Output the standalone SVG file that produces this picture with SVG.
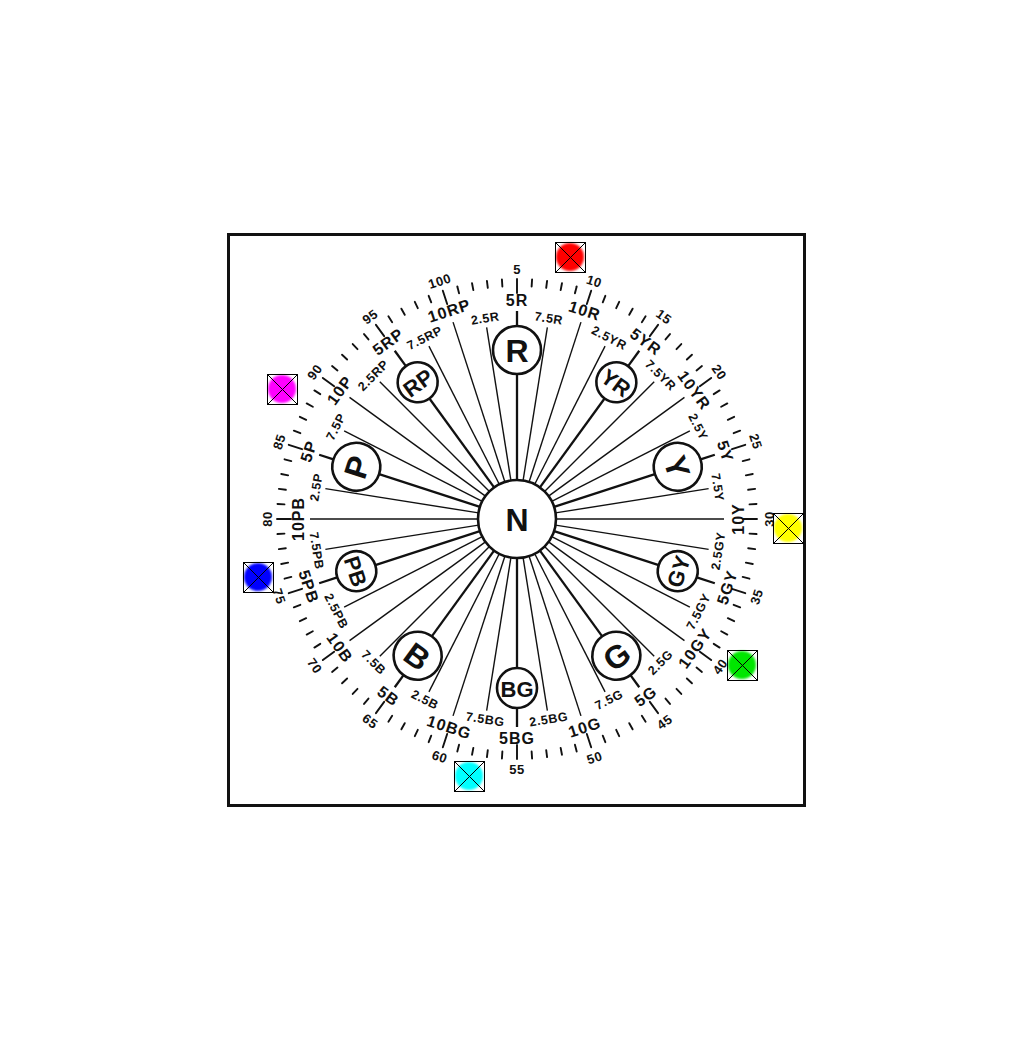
<svg xmlns="http://www.w3.org/2000/svg" width="1028" height="1039" viewBox="0 0 1028 1039">
<style>
 .ln{stroke:#111;stroke-width:1.4}
 .lnM{stroke:#111;stroke-width:2.3}
 .hc{fill:#fff;stroke:#111;stroke-width:2.6}
 text{font-family:"Liberation Sans",Arial,sans-serif;font-weight:bold;fill:#111;text-anchor:middle;dominant-baseline:central}
 .num{font-size:13px;letter-spacing:0.5px}
 .maj{font-size:16px;letter-spacing:1px}
 .min{font-size:12.5px;letter-spacing:0.6px}
 .big{font-size:32px}
 .mid{font-size:22px}
 .mk rect{fill:none;stroke:#000;stroke-width:1}
 .mk line{stroke:#000;stroke-width:1}
</style>
<defs>
 <line id="tk" x1="0" y1="-233" x2="0" y2="-240"/>
 <line id="tM" x1="0" y1="-226" x2="0" y2="-240"/>
 <filter id="soft" x="-20%" y="-20%" width="140%" height="140%"><feGaussianBlur stdDeviation="0.8"/></filter>
</defs>
<rect x="0" y="0" width="1028" height="1039" fill="#fff"/>
<rect id="frame" x="228.5" y="234.5" width="576" height="571" fill="none" stroke="#111" stroke-width="3"/>
<g transform="translate(517 519)">
 <g id="ticks" stroke="#111" stroke-width="1.9" stroke-linecap="round">
  <use href="#tk" transform="rotate(-14.4)"/><use href="#tk" transform="rotate(-10.8)"/><use href="#tk" transform="rotate(-7.2)"/><use href="#tk" transform="rotate(-3.6)"/><use href="#tM" transform="rotate(0)"/>
  <use href="#tk" transform="rotate(3.6)"/><use href="#tk" transform="rotate(7.2)"/><use href="#tk" transform="rotate(10.8)"/><use href="#tk" transform="rotate(14.4)"/><use href="#tM" transform="rotate(18)"/>
  <use href="#tk" transform="rotate(21.6)"/><use href="#tk" transform="rotate(25.2)"/><use href="#tk" transform="rotate(28.8)"/><use href="#tk" transform="rotate(32.4)"/><use href="#tM" transform="rotate(36)"/>
  <use href="#tk" transform="rotate(39.6)"/><use href="#tk" transform="rotate(43.2)"/><use href="#tk" transform="rotate(46.8)"/><use href="#tk" transform="rotate(50.4)"/><use href="#tM" transform="rotate(54)"/>
  <use href="#tk" transform="rotate(57.6)"/><use href="#tk" transform="rotate(61.2)"/><use href="#tk" transform="rotate(64.8)"/><use href="#tk" transform="rotate(68.4)"/><use href="#tM" transform="rotate(72)"/>
  <use href="#tk" transform="rotate(75.6)"/><use href="#tk" transform="rotate(79.2)"/><use href="#tk" transform="rotate(82.8)"/><use href="#tk" transform="rotate(86.4)"/><use href="#tM" transform="rotate(90)"/>
  <use href="#tk" transform="rotate(93.6)"/><use href="#tk" transform="rotate(97.2)"/><use href="#tk" transform="rotate(100.8)"/><use href="#tk" transform="rotate(104.4)"/><use href="#tM" transform="rotate(108)"/>
  <use href="#tk" transform="rotate(111.6)"/><use href="#tk" transform="rotate(115.2)"/><use href="#tk" transform="rotate(118.8)"/><use href="#tk" transform="rotate(122.4)"/><use href="#tM" transform="rotate(126)"/>
  <use href="#tk" transform="rotate(129.6)"/><use href="#tk" transform="rotate(133.2)"/><use href="#tk" transform="rotate(136.8)"/><use href="#tk" transform="rotate(140.4)"/><use href="#tM" transform="rotate(144)"/>
  <use href="#tk" transform="rotate(147.6)"/><use href="#tk" transform="rotate(151.2)"/><use href="#tk" transform="rotate(154.8)"/><use href="#tk" transform="rotate(158.4)"/><use href="#tM" transform="rotate(162)"/>
  <use href="#tk" transform="rotate(165.6)"/><use href="#tk" transform="rotate(169.2)"/><use href="#tk" transform="rotate(172.8)"/><use href="#tk" transform="rotate(176.4)"/><use href="#tM" transform="rotate(180)"/>
  <use href="#tk" transform="rotate(183.6)"/><use href="#tk" transform="rotate(187.2)"/><use href="#tk" transform="rotate(190.8)"/><use href="#tk" transform="rotate(194.4)"/><use href="#tM" transform="rotate(198)"/>
  <use href="#tk" transform="rotate(201.6)"/><use href="#tk" transform="rotate(205.2)"/><use href="#tk" transform="rotate(208.8)"/><use href="#tk" transform="rotate(212.4)"/><use href="#tM" transform="rotate(216)"/>
  <use href="#tk" transform="rotate(219.6)"/><use href="#tk" transform="rotate(223.2)"/><use href="#tk" transform="rotate(226.8)"/><use href="#tk" transform="rotate(230.4)"/><use href="#tM" transform="rotate(234)"/>
  <use href="#tk" transform="rotate(237.6)"/><use href="#tk" transform="rotate(241.2)"/><use href="#tk" transform="rotate(244.8)"/><use href="#tk" transform="rotate(248.4)"/><use href="#tM" transform="rotate(252)"/>
  <use href="#tk" transform="rotate(255.6)"/><use href="#tk" transform="rotate(259.2)"/><use href="#tk" transform="rotate(262.8)"/><use href="#tk" transform="rotate(266.4)"/><use href="#tM" transform="rotate(270)"/>
  <use href="#tk" transform="rotate(273.6)"/><use href="#tk" transform="rotate(277.2)"/><use href="#tk" transform="rotate(280.8)"/><use href="#tk" transform="rotate(284.4)"/><use href="#tM" transform="rotate(288)"/>
  <use href="#tk" transform="rotate(291.6)"/><use href="#tk" transform="rotate(295.2)"/><use href="#tk" transform="rotate(298.8)"/><use href="#tk" transform="rotate(302.4)"/><use href="#tM" transform="rotate(306)"/>
  <use href="#tk" transform="rotate(309.6)"/><use href="#tk" transform="rotate(313.2)"/><use href="#tk" transform="rotate(316.8)"/><use href="#tk" transform="rotate(320.4)"/><use href="#tM" transform="rotate(324)"/>
  <use href="#tk" transform="rotate(327.6)"/><use href="#tk" transform="rotate(331.2)"/><use href="#tk" transform="rotate(334.8)"/><use href="#tk" transform="rotate(338.4)"/><use href="#tM" transform="rotate(342)"/>
 </g>
 <g id="numbers">
  <text class="num" transform="rotate(0) translate(0 -250)">5</text>
  <text class="num" transform="rotate(18) translate(0 -250)">10</text>
  <text class="num" transform="rotate(36) translate(0 -250)">15</text>
  <text class="num" transform="rotate(54) translate(0 -250)">20</text>
  <text class="num" transform="rotate(72) translate(0 -251)">25</text>
  <text class="num" transform="rotate(90) translate(0 -252) rotate(180)">30</text>
  <text class="num" transform="rotate(108) translate(0 -252) rotate(180)">35</text>
  <text class="num" transform="rotate(126) translate(0 -251) rotate(180)">40</text>
  <text class="num" transform="rotate(144) translate(0 -251) rotate(180)">45</text>
  <text class="num" transform="rotate(162) translate(0 -251) rotate(180)">50</text>
  <text class="num" transform="rotate(180) translate(0 -250) rotate(180)">55</text>
  <text class="num" transform="rotate(198) translate(0 -250) rotate(180)">60</text>
  <text class="num" transform="rotate(216) translate(0 -250) rotate(180)">65</text>
  <text class="num" transform="rotate(234) translate(0 -250) rotate(180)">70</text>
  <text class="num" transform="rotate(252) translate(0 -250) rotate(180)">75</text>
  <text class="num" transform="rotate(270) translate(0 -250)">80</text>
  <text class="num" transform="rotate(288) translate(0 -250)">85</text>
  <text class="num" transform="rotate(306) translate(0 -250)">90</text>
  <text class="num" transform="rotate(324) translate(0 -250)">95</text>
  <text class="num" transform="rotate(342) translate(0 -250)">100</text>
 </g>
 <g id="connectors">
  <line class="ln" y1="-39" y2="-194" transform="rotate(-9)"/>
  <line class="ln" y1="-39" y2="-194" transform="rotate(9)"/>
  <line class="ln" y1="-39" y2="-194" transform="rotate(27)"/>
  <line class="ln" y1="-39" y2="-194" transform="rotate(45)"/>
  <line class="ln" y1="-39" y2="-194" transform="rotate(63)"/>
  <line class="ln" y1="-39" y2="-194" transform="rotate(81)"/>
  <line class="ln" y1="-39" y2="-194" transform="rotate(99)"/>
  <line class="ln" y1="-39" y2="-194" transform="rotate(117)"/>
  <line class="ln" y1="-39" y2="-194" transform="rotate(135)"/>
  <line class="ln" y1="-39" y2="-194" transform="rotate(153)"/>
  <line class="ln" y1="-39" y2="-194" transform="rotate(171)"/>
  <line class="ln" y1="-39" y2="-194" transform="rotate(189)"/>
  <line class="ln" y1="-39" y2="-194" transform="rotate(207)"/>
  <line class="ln" y1="-39" y2="-194" transform="rotate(225)"/>
  <line class="ln" y1="-39" y2="-194" transform="rotate(243)"/>
  <line class="ln" y1="-39" y2="-194" transform="rotate(261)"/>
  <line class="ln" y1="-39" y2="-194" transform="rotate(279)"/>
  <line class="ln" y1="-39" y2="-194" transform="rotate(297)"/>
  <line class="ln" y1="-39" y2="-194" transform="rotate(315)"/>
  <line class="ln" y1="-39" y2="-194" transform="rotate(333)"/>
  <line class="ln" y1="-39" y2="-207" transform="rotate(18)"/>
  <line class="ln" y1="-39" y2="-207" transform="rotate(54)"/>
  <line class="ln" y1="-39" y2="-207" transform="rotate(90)"/>
  <line class="ln" y1="-39" y2="-207" transform="rotate(126)"/>
  <line class="ln" y1="-39" y2="-207" transform="rotate(162)"/>
  <line class="ln" y1="-39" y2="-207" transform="rotate(198)"/>
  <line class="ln" y1="-39" y2="-207" transform="rotate(234)"/>
  <line class="ln" y1="-39" y2="-207" transform="rotate(270)"/>
  <line class="ln" y1="-39" y2="-207" transform="rotate(306)"/>
  <line class="ln" y1="-39" y2="-207" transform="rotate(342)"/>
  <line class="lnM" y1="-39" y2="-145" transform="rotate(0)"/><line class="lnM" y1="-193" y2="-208" transform="rotate(0)"/>
  <line class="lnM" y1="-39" y2="-149" transform="rotate(36)"/><line class="lnM" y1="-189" y2="-208" transform="rotate(36)"/>
  <line class="lnM" y1="-39" y2="-145" transform="rotate(72)"/><line class="lnM" y1="-193" y2="-208" transform="rotate(72)"/>
  <line class="lnM" y1="-39" y2="-149" transform="rotate(108)"/><line class="lnM" y1="-189" y2="-208" transform="rotate(108)"/>
  <line class="lnM" y1="-39" y2="-145" transform="rotate(144)"/><line class="lnM" y1="-193" y2="-208" transform="rotate(144)"/>
  <line class="lnM" y1="-39" y2="-149" transform="rotate(180)"/><line class="lnM" y1="-189" y2="-208" transform="rotate(180)"/>
  <line class="lnM" y1="-39" y2="-145" transform="rotate(216)"/><line class="lnM" y1="-193" y2="-208" transform="rotate(216)"/>
  <line class="lnM" y1="-39" y2="-149" transform="rotate(252)"/><line class="lnM" y1="-189" y2="-208" transform="rotate(252)"/>
  <line class="lnM" y1="-39" y2="-145" transform="rotate(288)"/><line class="lnM" y1="-193" y2="-208" transform="rotate(288)"/>
  <line class="lnM" y1="-39" y2="-149" transform="rotate(324)"/><line class="lnM" y1="-189" y2="-208" transform="rotate(324)"/>
 </g>
 <g id="major-labels">
  <text class="maj" transform="rotate(0) translate(0 -219)">5R</text>
  <text class="maj" transform="rotate(18) translate(0 -219)">10R</text>
  <text class="maj" transform="rotate(36) translate(0 -219)">5YR</text>
  <text class="maj" transform="rotate(54) translate(0 -219)">10YR</text>
  <text class="maj" transform="rotate(72) translate(0 -219)">5Y</text>
  <text class="maj" transform="rotate(90) translate(0 -221) rotate(180)">10Y</text>
  <text class="maj" transform="rotate(108) translate(0 -221) rotate(180)">5GY</text>
  <text class="maj" transform="rotate(126) translate(0 -220) rotate(180)">10GY</text>
  <text class="maj" transform="rotate(144) translate(0 -219) rotate(180)">5G</text>
  <text class="maj" transform="rotate(162) translate(0 -219) rotate(180)">10G</text>
  <text class="maj" transform="rotate(180) translate(0 -219) rotate(180)">5BG</text>
  <text class="maj" transform="rotate(198) translate(0 -219) rotate(180)">10BG</text>
  <text class="maj" transform="rotate(216) translate(0 -219) rotate(180)">5B</text>
  <text class="maj" transform="rotate(234) translate(0 -219) rotate(180)">10B</text>
  <text class="maj" transform="rotate(252) translate(0 -219) rotate(180)">5PB</text>
  <text class="maj" transform="rotate(270) translate(0 -219)">10PB</text>
  <text class="maj" transform="rotate(288) translate(0 -219)">5P</text>
  <text class="maj" transform="rotate(306) translate(0 -219)">10P</text>
  <text class="maj" transform="rotate(324) translate(0 -219)">5RP</text>
  <text class="maj" transform="rotate(342) translate(0 -219)">10RP</text>
 </g>
 <g id="minor-labels">
  <text class="min" transform="rotate(-9) translate(0 -203)">2.5R</text>
  <text class="min" transform="rotate(9) translate(0 -203)">7.5R</text>
  <text class="min" transform="rotate(27) translate(0 -203)">2.5YR</text>
  <text class="min" transform="rotate(45) translate(0 -203)">7.5YR</text>
  <text class="min" transform="rotate(63) translate(0 -203)">2.5Y</text>
  <text class="min" transform="rotate(81) translate(0 -203)">7.5Y</text>
  <text class="min" transform="rotate(99) translate(0 -204) rotate(180)">2.5GY</text>
  <text class="min" transform="rotate(117) translate(0 -204) rotate(180)">7.5GY</text>
  <text class="min" transform="rotate(135) translate(0 -203) rotate(180)">2.5G</text>
  <text class="min" transform="rotate(153) translate(0 -203) rotate(180)">7.5G</text>
  <text class="min" transform="rotate(171) translate(0 -203) rotate(180)">2.5BG</text>
  <text class="min" transform="rotate(189) translate(0 -203) rotate(180)">7.5BG</text>
  <text class="min" transform="rotate(207) translate(0 -203) rotate(180)">2.5B</text>
  <text class="min" transform="rotate(225) translate(0 -203) rotate(180)">7.5B</text>
  <text class="min" transform="rotate(243) translate(0 -203) rotate(180)">2.5PB</text>
  <text class="min" transform="rotate(261) translate(0 -203) rotate(180)">7.5PB</text>
  <text class="min" transform="rotate(279) translate(0 -203)">2.5P</text>
  <text class="min" transform="rotate(297) translate(0 -203)">7.5P</text>
  <text class="min" transform="rotate(315) translate(0 -203)">2.5RP</text>
  <text class="min" transform="rotate(333) translate(0 -203)">7.5RP</text>
 </g>
 <g id="node-N"><circle r="39" class="hc" stroke-width="3"/><text class="big" y="1">N</text></g>
 <g id="node-R" transform="rotate(0) translate(0 -169)"><circle r="24" class="hc"/><text class="big" y="1">R</text></g>
 <g id="node-YR" transform="rotate(36) translate(0 -169)"><circle r="20" class="hc"/><text class="mid" y="1">YR</text></g>
 <g id="node-Y" transform="rotate(72) translate(0 -169)"><circle r="24" class="hc"/><text class="big" y="1">Y</text></g>
 <g id="node-GY" transform="rotate(108) translate(0 -169) rotate(180)"><circle r="20" class="hc"/><text class="mid" y="1">GY</text></g>
 <g id="node-G" transform="rotate(144) translate(0 -169) rotate(180)"><circle r="24" class="hc"/><text class="big" y="1">G</text></g>
 <g id="node-BG" transform="rotate(180) translate(0 -169) rotate(180)"><circle r="20" class="hc"/><text class="mid" y="1">BG</text></g>
 <g id="node-B" transform="rotate(216) translate(0 -169) rotate(180)"><circle r="24" class="hc"/><text class="big" y="1">B</text></g>
 <g id="node-PB" transform="rotate(252) translate(0 -169) rotate(180)"><circle r="20" class="hc"/><text class="mid" y="1">PB</text></g>
 <g id="node-P" transform="rotate(288) translate(0 -169)"><circle r="24" class="hc"/><text class="big" y="1">P</text></g>
 <g id="node-RP" transform="rotate(324) translate(0 -169)"><circle r="20" class="hc"/><text class="mid" y="1">RP</text></g>
</g>
<g id="marker-red" class="mk"><circle cx="570" cy="257" r="14" fill="#ff0000" filter="url(#soft)"/><rect x="555.5" y="242.5" width="30" height="30"/><line x1="555.5" y1="242.5" x2="585.5" y2="272.5"/><line x1="585.5" y1="242.5" x2="555.5" y2="272.5"/></g>
<g id="marker-magenta" class="mk"><circle cx="282" cy="389" r="14" fill="#ff00ff" filter="url(#soft)"/><rect x="267.5" y="374.5" width="30" height="30"/><line x1="267.5" y1="374.5" x2="297.5" y2="404.5"/><line x1="297.5" y1="374.5" x2="267.5" y2="404.5"/></g>
<g id="marker-yellow" class="mk"><circle cx="788" cy="528" r="14" fill="#ffff00" filter="url(#soft)"/><rect x="773.5" y="513.5" width="30" height="30"/><line x1="773.5" y1="513.5" x2="803.5" y2="543.5"/><line x1="803.5" y1="513.5" x2="773.5" y2="543.5"/></g>
<g id="marker-green" class="mk"><circle cx="742" cy="665" r="14" fill="#00e600" filter="url(#soft)"/><rect x="727.5" y="650.5" width="30" height="30"/><line x1="727.5" y1="650.5" x2="757.5" y2="680.5"/><line x1="757.5" y1="650.5" x2="727.5" y2="680.5"/></g>
<g id="marker-cyan" class="mk"><circle cx="469" cy="776" r="14" fill="#00ffff" filter="url(#soft)"/><rect x="454.5" y="761.5" width="30" height="30"/><line x1="454.5" y1="761.5" x2="484.5" y2="791.5"/><line x1="484.5" y1="761.5" x2="454.5" y2="791.5"/></g>
<g id="marker-blue" class="mk"><circle cx="258" cy="577" r="14" fill="#0000ff" filter="url(#soft)"/><rect x="243.5" y="562.5" width="30" height="30"/><line x1="243.5" y1="562.5" x2="273.5" y2="592.5"/><line x1="273.5" y1="562.5" x2="243.5" y2="592.5"/></g>
</svg>
